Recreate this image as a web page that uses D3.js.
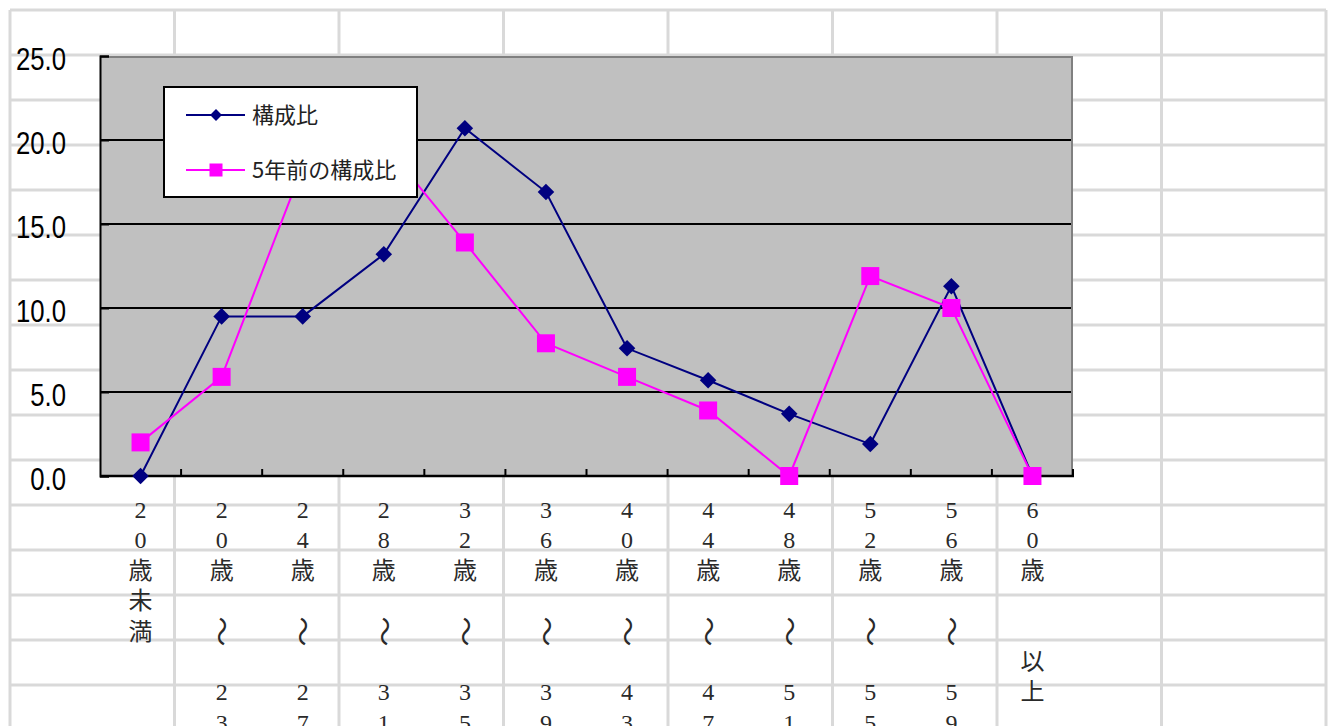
<!DOCTYPE html>
<html>
<head>
<meta charset="utf-8">
<script src="https://cdn.jsdelivr.net/npm/d3@7"></script>
<style>
  html, body { margin: 0; padding: 0; background: #fff; overflow: hidden; }
  .ylab { font-family: "Liberation Sans", sans-serif; font-size: 31px; fill: #000; }
  .xlab { font-family: "Liberation Serif", "Noto Sans CJK JP", serif; font-size: 24px; fill: #2a2a2a; }
  .leg { font-family: "Noto Sans CJK JP", sans-serif; font-size: 22px; fill: #222; }
</style>
</head>
<body>
<div id="chart"></div>
<script>
var categories = ["20歳未満", "20歳　～　23歳", "24歳　～　27歳", "28歳　～　31歳", "32歳　～　35歳", "36歳　～　39歳",
                  "40歳　～　43歳", "44歳　～　47歳", "48歳　～　51歳", "52歳　～　55歳", "56歳　～　59歳", "60歳　　以上"],
  shareNow = [0.0, 9.5, 9.5, 13.2, 20.7, 16.9, 7.6, 5.7, 3.7, 1.9, 11.3, 0.0],
  share5y = [2.0, 5.9, 18.4, 19.8, 13.9, 7.9, 5.9, 3.9, 0.0, 11.9, 10.0, 0.0],
  seriesNames = ["構成比", "5年前の構成比"],
  yTicks = [0, 5, 10, 15, 20, 25];

var W = 1332, H = 726,
  plot = { left: 100, right: 1073, top: 56, bottom: 476 },
  navy = "#000080", pink = "#ff00ff";

var svg = d3.select("#chart").append("svg")
  .attr("width", W)
  .attr("height", H);

// spreadsheet cells behind the chart
var sheet = svg.append("g").attr("stroke", "#d9d9d9").attr("stroke-width", 3);
sheet.selectAll(".vcell")
  .data(d3.range(9)).enter().append("line")
  .attr("x1", function(d){ return 10 + d*164.5; })
  .attr("x2", function(d){ return 10 + d*164.5; })
  .attr("y1", 10).attr("y2", H);
sheet.selectAll(".hcell")
  .data(d3.range(16)).enter().append("line")
  .attr("x1", 10).attr("x2", 1326)
  .attr("y1", function(d){ return 10 + d*45; })
  .attr("y2", function(d){ return 10 + d*45; });

var x = d3.scaleBand().domain(categories).range([plot.left, plot.right]),
  y = d3.scaleLinear().domain([0, 25]).range([plot.bottom, plot.top]);

function cx(i){ return x(categories[i]) + x.bandwidth()/2; }

svg.append("rect")
  .attr("x", plot.left).attr("y", plot.top)
  .attr("width", plot.right - plot.left)
  .attr("height", plot.bottom - plot.top)
  .attr("fill", "#c0c0c0");

// grid lines
svg.selectAll(".grid")
  .data([5, 10, 15, 20]).enter().append("line")
  .attr("x1", plot.left).attr("x2", plot.right)
  .attr("y1", function(d){ return y(d); })
  .attr("y2", function(d){ return y(d); })
  .attr("stroke", "#000").attr("stroke-width", 2);

// top / right border
svg.append("path")
  .attr("d", "M" + plot.left + "," + (plot.top + 1) + "H" + (plot.right - 1) + "V" + plot.bottom)
  .attr("fill", "none").attr("stroke", "#808080").attr("stroke-width", 2);

// y axis
var yAxis = svg.append("g")
  .attr("transform", "translate(" + plot.left + ",0)")
  .call(d3.axisLeft(y).tickValues(yTicks).tickSize(-9).tickPadding(34)
    .tickFormat(function(d){ return d.toFixed(1); }));
yAxis.select(".domain").attr("stroke", "#000").attr("stroke-width", 2);
yAxis.selectAll(".tick line").attr("stroke", "#000").attr("stroke-width", 2);
yAxis.selectAll(".tick text").attr("class", "ylab")
  .attr("font-family", null).attr("font-size", null)
  .attr("x", 0).attr("dy", "0.42em")
  .attr("transform", "translate(-34,0) scale(0.83,1)");

// x axis line and ticks between categories
svg.append("line")
  .attr("x1", plot.left).attr("x2", plot.right + 1)
  .attr("y1", plot.bottom).attr("y2", plot.bottom)
  .attr("stroke", "#000").attr("stroke-width", 2.5);
svg.selectAll(".xtick")
  .data(categories.slice(1).map(function(c){ return x(c); }).concat([plot.right]))
  .enter().append("line")
  .attr("x1", function(d){ return d; }).attr("x2", function(d){ return d; })
  .attr("y1", plot.bottom).attr("y2", plot.bottom - 7)
  .attr("stroke", "#000").attr("stroke-width", 2);

// category labels, one character per line
categories.forEach(function(c, i){
  var chars = Array.from(c);
  var g = svg.append("g").attr("class", "xlab");
  chars.forEach(function(ch, k){
    if (ch === "　") return;
    var cy = 510 + k*30.4;
    var t = g.append("text")
      .attr("text-anchor", "middle")
      .text(ch);
    if (ch === "～") {
      t.attr("transform", "translate(" + cx(i) + "," + cy + ") rotate(90) scale(1.25,1.1)")
        .attr("dy", "0.35em");
    } else {
      t.attr("x", cx(i)).attr("y", cy + 8);
    }
  });
});

// lines + markers
var line = d3.line()
  .x(function(d, i){ return cx(i); })
  .y(function(d){ return y(d); });

svg.append("path").datum(shareNow)
  .attr("d", line).attr("fill", "none")
  .attr("stroke", navy).attr("stroke-width", 2);
svg.selectAll(".dia")
  .data(shareNow).enter().append("path")
  .attr("d", d3.symbol().type(d3.symbolDiamond2).size(175))
  .attr("transform", function(d, i){ return "translate(" + cx(i) + "," + y(d) + ")"; })
  .attr("fill", navy);

svg.append("path").datum(share5y)
  .attr("d", line).attr("fill", "none")
  .attr("stroke", pink).attr("stroke-width", 2);
svg.selectAll(".sq")
  .data(share5y).enter().append("rect")
  .attr("x", function(d, i){ return cx(i) - 9; })
  .attr("y", function(d){ return y(d) - 9; })
  .attr("width", 18).attr("height", 18)
  .attr("fill", pink);

// legend
var legend = svg.append("g");
legend.append("rect")
  .attr("x", 164).attr("y", 87).attr("width", 253).attr("height", 110)
  .attr("fill", "#fff").attr("stroke", "#000").attr("stroke-width", 2);
var legRows = legend.selectAll(".legrow")
  .data(seriesNames).enter().append("g")
  .attr("transform", function(d, i){ return "translate(0," + (115 + i*55) + ")"; });
legRows.append("line")
  .attr("x1", 186).attr("x2", 245)
  .attr("stroke", function(d, i){ return i ? pink : navy; })
  .attr("stroke-width", 2);
legRows.each(function(d, i){
  var r = d3.select(this);
  if (i === 0) {
    r.append("path")
      .attr("d", d3.symbol().type(d3.symbolDiamond2).size(90))
      .attr("transform", "translate(216,0)")
      .attr("fill", navy);
  } else {
    r.append("rect").attr("x", 209.5).attr("y", -6.5).attr("width", 13).attr("height", 13)
      .attr("fill", pink);
  }
});
legRows.append("text")
  .attr("class", "leg")
  .attr("x", 252).attr("y", 8)
  .text(function(d){ return d; });
</script>
</body>
</html>
